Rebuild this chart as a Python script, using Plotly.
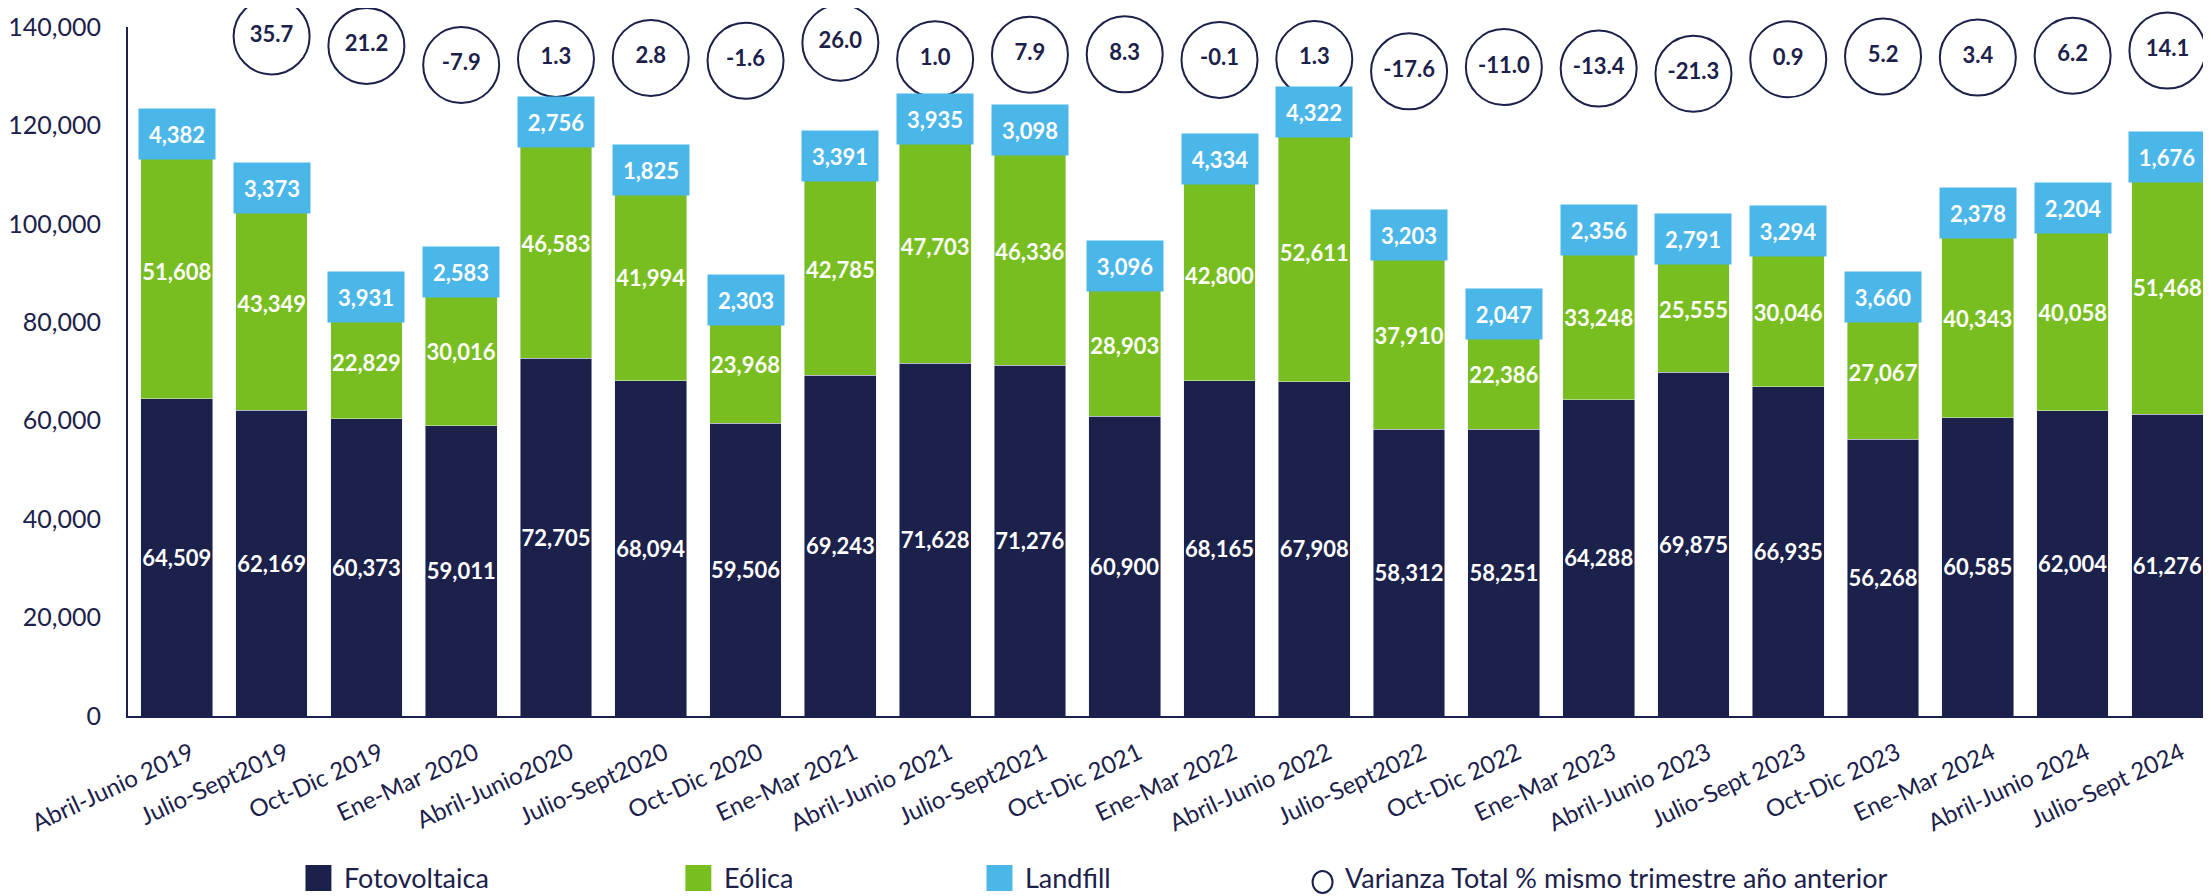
import plotly.graph_objects as go

categories = ["Abril-Junio 2019", "Julio-Sept2019", "Oct-Dic 2019", "Ene-Mar 2020",
              "Abril-Junio2020", "Julio-Sept2020", "Oct-Dic 2020", "Ene-Mar 2021",
              "Abril-Junio 2021", "Julio-Sept2021", "Oct-Dic 2021", "Ene-Mar 2022",
              "Abril-Junio 2022", "Julio-Sept2022", "Oct-Dic 2022", "Ene-Mar 2023",
              "Abril-Junio 2023", "Julio-Sept 2023", "Oct-Dic 2023", "Ene-Mar 2024",
              "Abril-Junio 2024", "Julio-Sept 2024"]
fotovoltaica = [64509, 62169, 60373, 59011, 72705, 68094, 59506, 69243, 71628, 71276, 60900,
                68165, 67908, 58312, 58251, 64288, 69875, 66935, 56268, 60585, 62004, 61276]
eolica = [51608, 43349, 22829, 30016, 46583, 41994, 23968, 42785, 47703, 46336, 28903,
          42800, 52611, 37910, 22386, 33248, 25555, 30046, 27067, 40343, 40058, 51468]
landfill = [4382, 3373, 3931, 2583, 2756, 1825, 2303, 3391, 3935, 3098, 3096,
            4334, 4322, 3203, 2047, 2356, 2791, 3294, 3660, 2378, 2204, 1676]
varianza_categories = categories[1:]
varianza = [35.7, 21.2, -7.9, 1.3, 2.8, -1.6, 26.0, 1.0, 7.9, 8.3, -0.1,
            1.3, -17.6, -11.0, -13.4, -21.3, 0.9, 5.2, 3.4, 6.2, 14.1]
y_ticks = [0, 20000, 40000, 60000, 80000, 100000, 120000, 140000]
legend_labels = ["Fotovoltaica", "Eólica", "Landfill", "Varianza Total % mismo trimestre año anterior"]

NAVY = "#1B214A"
GREEN = "#78BE20"
BLUE = "#4BB6E8"
FONT = "Lato"

# page offset of the figure (body margin) is 8px; target page pixels below
OFF = 8
W, H = 2211 - OFF, 896 - OFF
ML, MR, MT, MB = 122 - OFF, 0, 27 - OFF, 180

fig = go.Figure()

label_font = dict(family=FONT, size=22, color="white", weight=700)

fig.add_bar(x=categories, y=fotovoltaica, name=legend_labels[0], marker_color=NAVY,
            texttemplate="%{y:,.0f}", textposition="inside", insidetextanchor="middle",
            textangle=0, constraintext="none", textfont=label_font, showlegend=False)
fig.add_bar(x=categories, y=eolica, name=legend_labels[1], marker_color=GREEN,
            texttemplate="%{y:,.0f}", textposition="inside", insidetextanchor="middle",
            textangle=0, constraintext="none", textfont=label_font, showlegend=False)
fig.add_bar(x=categories, y=landfill, name=legend_labels[2], marker_color=BLUE,
            textposition="none", showlegend=False)

fig.add_scatter(x=varianza_categories, y=varianza, yaxis="y2", mode="markers+text",
                name=legend_labels[3],
                marker=dict(symbol="circle", size=76, color="rgba(0,0,0,0)",
                            line=dict(color=NAVY, width=2)),
                texttemplate="%{y:.1f}", textposition="middle center",
                textfont=dict(family=FONT, size=22, color=NAVY, weight=700),
                cliponaxis=False, showlegend=False)

annotations = []
for cat, f, e, l in zip(categories, fotovoltaica, eolica, landfill):
    annotations.append(dict(x=cat, y=f + e + l / 2, xref="x", yref="y", text=f"{l:,}",
                            showarrow=False, bgcolor=BLUE, width=74, height=48,
                            font=label_font, borderpad=1))

# Legend drawn manually (page pixel layout positions)
PW = W - ML - MR
PH = H - MT - MB


def pxx(p):
    return (p - OFF - ML) / PW


def pxy(p):
    return (H - MB - (p - OFF)) / PH


shapes = []
legend_items = [(300, NAVY, legend_labels[0]), (681, GREEN, legend_labels[1]),
                (983, BLUE, legend_labels[2])]
for x0, col, lab in legend_items:
    shapes.append(dict(type="rect", xref="paper", yref="paper",
                       x0=pxx(x0), x1=pxx(x0 + 26), y0=pxy(891), y1=pxy(865),
                       fillcolor=col, line=dict(width=0)))
    annotations.append(dict(x=pxx(x0 + 37), y=pxy(877), xref="paper", yref="paper",
                            xanchor="left", yanchor="middle", text=lab, showarrow=False,
                            font=dict(family=FONT, size=27, color=NAVY)))
shapes.append(dict(type="circle", xref="paper", yref="paper",
                   x0=pxx(1310), x1=pxx(1330), y0=pxy(893), y1=pxy(871),
                   fillcolor="rgba(0,0,0,0)", line=dict(color=NAVY, width=2)))
annotations.append(dict(x=pxx(1341), y=pxy(877), xref="paper", yref="paper",
                        xanchor="left", yanchor="middle", text=legend_labels[3],
                        showarrow=False, font=dict(family=FONT, size=27, color=NAVY)))

fig.update_layout(
    width=W, height=H, autosize=False,
    margin=dict(l=ML, r=MR, t=MT, b=MB, pad=0),
    paper_bgcolor="white", plot_bgcolor="white",
    barmode="stack", bargap=0.243,
    font=dict(family=FONT, color=NAVY),
    xaxis=dict(type="category", range=[-0.515, 21.46], tickangle=-25,
               tickfont=dict(family=FONT, size=24, color=NAVY),
               ticklabelstandoff=12, ticklabelshift=14,
               showline=True, linecolor=NAVY, linewidth=2, showgrid=False,
               ticks="", zeroline=False),
    yaxis=dict(range=[0, 140000], tickvals=y_ticks, tickformat=",",
               tickfont=dict(family=FONT, size=25, color=NAVY),
               showline=True, linecolor=NAVY, linewidth=2, showgrid=False,
               zeroline=False, ticks="", ticklabelstandoff=20),
    yaxis2=dict(overlaying="y", range=[-1000, 50], visible=False),
    annotations=annotations,
    shapes=shapes,
    showlegend=False,
)

fig.write_html("out.html")
